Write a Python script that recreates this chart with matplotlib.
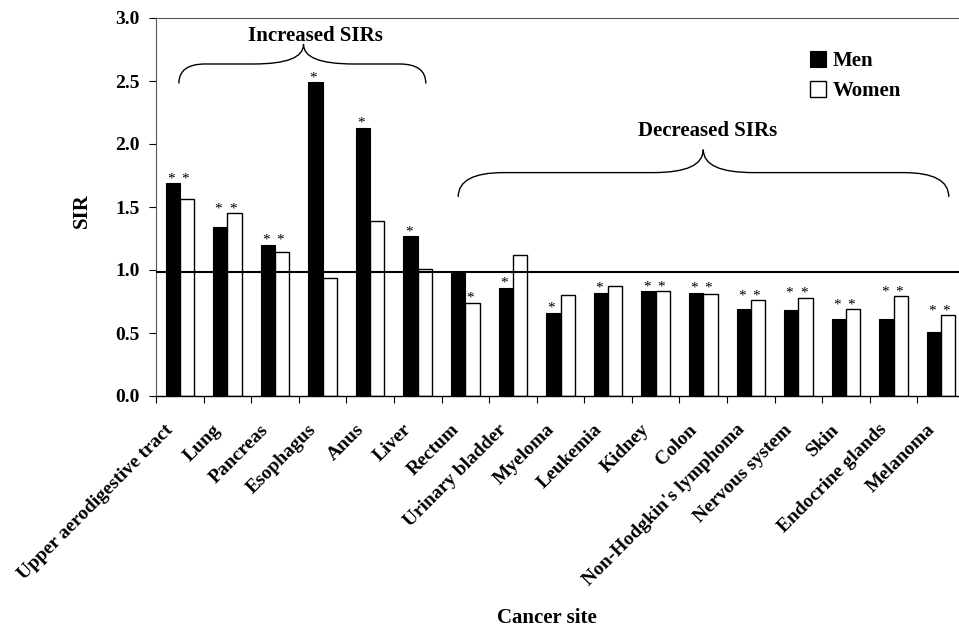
import numpy as np
import matplotlib
matplotlib.use("Agg")
import matplotlib.pyplot as plt
import matplotlib.transforms as mtransforms
from matplotlib.path import Path
from matplotlib.patches import PathPatch

# Standardized incidence ratios by cancer site
sites = ["Upper aerodigestive tract", "Lung", "Pancreas", "Esophagus", "Anus",
         "Liver", "Rectum", "Urinary bladder", "Myeloma", "Leukemia", "Kidney",
         "Colon", "Non-Hodgkin's lymphoma", "Nervous system", "Skin",
         "Endocrine glands", "Melanoma"]
men_sir = [1.69, 1.34, 1.20, 2.49, 2.13, 1.27, 0.98, 0.86, 0.66, 0.82, 0.83,
           0.82, 0.69, 0.68, 0.61, 0.61, 0.51]
women_sir = [1.56, 1.45, 1.14, 0.94, 1.39, 1.01, 0.74, 1.12, 0.80, 0.87, 0.83,
             0.81, 0.76, 0.78, 0.69, 0.79, 0.64]
# 1 = statistically significant (asterisk)
men_sig = [1, 1, 1, 1, 1, 1, 0, 1, 1, 1, 1, 1, 1, 1, 1, 1, 1]
women_sig = [1, 1, 1, 0, 0, 0, 1, 0, 0, 0, 1, 1, 1, 1, 1, 1, 1]

yticks = [0.0, 0.5, 1.0, 1.5, 2.0, 2.5, 3.0]

plt.rcParams['font.family'] = ['Liberation Serif', 'DejaVu Serif']
plt.rcParams['font.weight'] = 'bold'

fig = plt.figure(figsize=(9.59, 6.27), dpi=100)
ax = fig.add_axes([156 / 959, 1 - 396 / 627, 809 / 959, 378 / 627])

x = np.arange(len(sites))
w = 0.3
ax.bar(x - w / 2, men_sir, w, color='black', edgecolor='black',
       linewidth=0.8, label='Men')
ax.bar(x + w / 2, women_sir, w, color='white', edgecolor='black',
       linewidth=1.0, label='Women')

# significance asterisks: a pair sits level above the taller bar
for i in range(len(sites)):
    both = men_sig[i] and women_sig[i]
    top = max(men_sir[i], women_sir[i])
    if men_sig[i]:
        ax.annotate('*', (x[i] - w / 2 - 0.04, top if both else men_sir[i]),
                    xytext=(0, -1.5), textcoords='offset points',
                    ha='center', va='bottom', fontsize=11, fontweight='normal')
    if women_sig[i]:
        ax.annotate('*', (x[i] + w / 2 - 0.04, top if both else women_sir[i]),
                    xytext=(0, -1.5), textcoords='offset points',
                    ha='center', va='bottom', fontsize=11, fontweight='normal')

# reference line at SIR = 1
ax.axhline(0.985, color='black', linewidth=1.5, zorder=3)


def brace(ax, x0, x1, xt, y_end, y_h, y_tip, rx, rt):
    verts = [(x0, y_end), (x0, y_h), (x0 + rx, y_h),
             (xt - rt, y_h), (xt, y_h), (xt, y_tip),
             (xt, y_h), (xt + rt, y_h),
             (x1 - rx, y_h), (x1, y_h), (x1, y_end)]
    codes = [Path.MOVETO, Path.CURVE3, Path.CURVE3,
             Path.LINETO, Path.CURVE3, Path.CURVE3,
             Path.CURVE3, Path.CURVE3,
             Path.LINETO, Path.CURVE3, Path.CURVE3]
    ax.add_patch(PathPatch(Path(verts, codes), facecolor='none',
                           edgecolor='black', linewidth=1.0))


brace(ax, -0.02, 5.17, 2.6, 2.48, 2.635, 2.79, 0.55, 1.05)
ax.text(2.84, 2.86, 'Increased SIRs', ha='center', va='center', fontsize=15)
brace(ax, 5.85, 16.16, 11.0, 1.58, 1.773, 1.955, 0.95, 1.05)
ax.text(11.1, 2.10, 'Decreased SIRs', ha='center', va='center', fontsize=15)

ax.set_xlim(-0.5, len(sites) - 0.5)
ax.set_ylim(0, 3.0)
ax.set_yticks(yticks)
ax.set_yticklabels([f'{v:.1f}' for v in yticks], fontsize=14)
ax.tick_params(axis='y', direction='out', length=5, width=0.8, pad=7)

# ticks between categories, labels centered
ax.set_xticks(np.arange(len(sites) + 1) - 0.5)
ax.set_xticklabels([])
ax.tick_params(axis='x', which='major', direction='out', length=5, width=0.8)
ax.set_xticks(x, minor=True)
ax.set_xticklabels(sites, minor=True, rotation=45, ha='right',
                   rotation_mode='anchor', fontsize=14)
ax.tick_params(axis='x', which='minor', length=0, pad=16)
shift = mtransforms.ScaledTranslation(-0.15, -0.03, fig.dpi_scale_trans)
for lbl in ax.xaxis.get_minorticklabels():
    lbl.set_transform(lbl.get_transform() + shift)

for s in ['left', 'top']:
    ax.spines[s].set_color('#555555')
    ax.spines[s].set_linestyle((0, (1, 1)))
    ax.spines[s].set_linewidth(0.8)
ax.spines['right'].set_visible(False)
ax.spines['bottom'].set_linewidth(1.0)

ax.legend(loc='upper left', bbox_to_anchor=(0.795, 0.94), frameon=False,
          fontsize=15, handlelength=0.8, handleheight=0.8,
          handletextpad=0.3, labelspacing=0.45, borderpad=0)

fig.text(82 / 959, 1 - 211 / 627, 'SIR', rotation=90, ha='center',
         va='center', fontsize=15)
fig.text(547 / 959, 1 - 618 / 627, 'Cancer site', ha='center', va='center',
         fontsize=15)

fig.savefig('out.png', dpi=100)
